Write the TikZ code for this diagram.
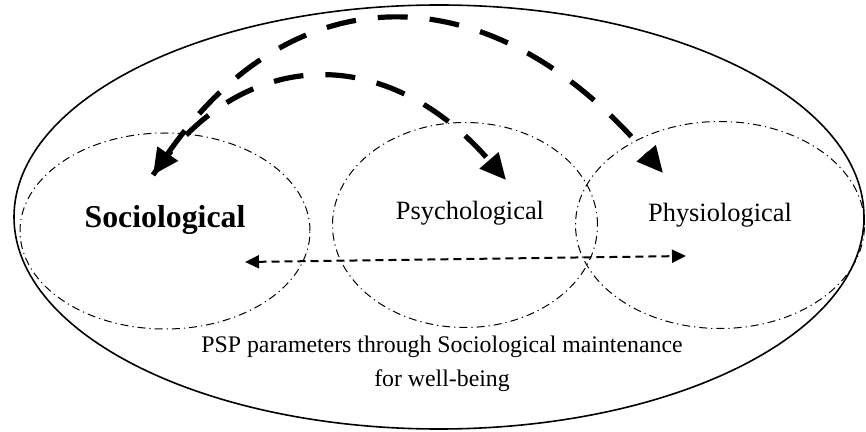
\documentclass[tikz,border=0pt]{standalone}
\usepackage{fontspec}
\setmainfont{Liberation Serif}
\usetikzlibrary{arrows.meta,shapes.geometric}

\begin{document}
\begin{tikzpicture}[x=0.5pt, y=-0.5pt,
    ring/.style={draw, ellipse, inner sep=0pt, line width=0.5pt,
      dash pattern=on 4pt off 2pt on 0.6pt off 2pt},
    bigdash/.style={line width=2.6pt, dash pattern=on 15pt off 11pt},
    thindash/.style={line width=1pt, dash pattern=on 4pt off 2.5pt}]
  \useasboundingbox (0,0) rectangle (866,432);

  % ===== outer frame =====
  \node[draw, ellipse, line width=0.8pt, inner sep=0pt,
    minimum width=425pt, minimum height=212pt] (frame) at (439,217) {};

  % ===== three domains =====
  \node[ring, minimum width=145pt, minimum height=98pt] (socRing) at (165,231) {};
  \node[ring, minimum width=132.5pt, minimum height=102.5pt] (psyRing) at (465,225) {};
  \node[ring, minimum width=144.5pt, minimum height=103.5pt] (phyRing) at (720,225) {};

  \node[font=\fontsize{15.9}{18}\selectfont\bfseries] (soc) at (165,220) {Sociological};
  \node[font=\fontsize{13.2}{16}\selectfont] (psy) at (470,213) {Psychological};
  \node[font=\fontsize{13.2}{16}\selectfont] (phy) at (720,215) {Physiological};
  \node[font=\fontsize{11.9}{17}\selectfont, align=center] (note) at (442,364)
    {PSP parameters through Sociological maintenance\\for well-being};

  % ===== links =====
  \coordinate (socTip) at (153,175);
  \coordinate (psyTip) at (506,180);
  \coordinate (phyTip) at (663,173);
  \draw[bigdash, {Triangle[length=13pt,width=12pt]}-{Triangle[length=13pt,width=12pt]}]
    (socTip) .. controls (294,-29) and (491,-29) .. (phyTip);
  \draw[bigdash, -{Triangle[length=13pt,width=12pt]}]
    (socTip) .. controls (244,43.5) and (388,43.5) .. (psyTip);

  \coordinate (leftEnd) at (245,262);
  \coordinate (rightEnd) at (686,256);
  \draw[thindash, {Triangle[length=7pt,width=6.5pt]}-{Triangle[length=7pt,width=6.5pt]}]
    (leftEnd) -- (rightEnd);
\end{tikzpicture}
\end{document}
